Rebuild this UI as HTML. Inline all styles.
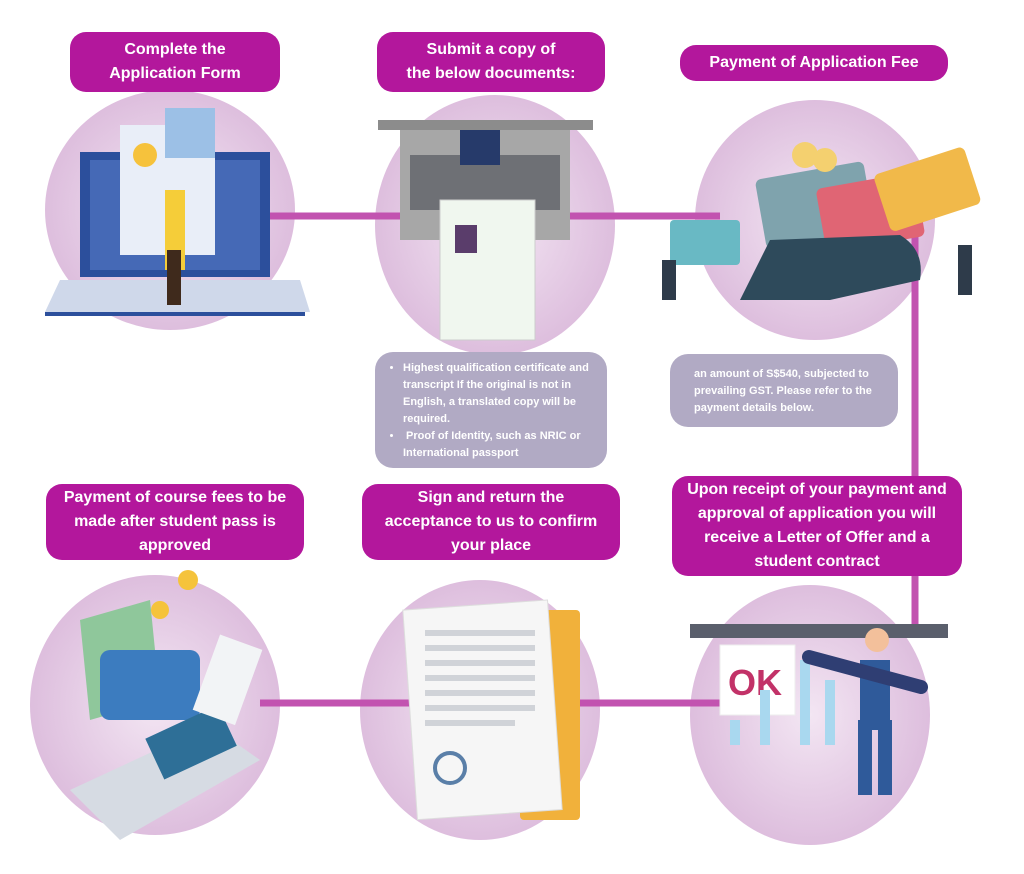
<!DOCTYPE html>
<html><head><style>
body{margin:0;width:1024px;height:874px;background:#fff;position:relative;overflow:hidden;font-family:"Liberation Sans",Arial,sans-serif}
.t{position:absolute;background:#b3179c;color:#fff;font-weight:bold;font-size:16px;line-height:24px;text-align:center;border-radius:16px;display:flex;align-items:center;justify-content:center}
.g{position:absolute;background:#b1aac4;color:#fff;font-weight:bold;font-size:11px;line-height:17px;border-radius:18px}
.g ul{margin:0;padding-left:28px}
svg{position:absolute;left:0;top:0}
</style></head><body>
<svg width="1024" height="874">
<defs><radialGradient id="b" cx="50%" cy="50%" r="60%"><stop offset="0" stop-color="#f3e6f3"/><stop offset="1" stop-color="#d9b6d9"/></radialGradient></defs>
<ellipse cx="170" cy="210" rx="125" ry="120" fill="url(#b)"/>
<ellipse cx="495" cy="225" rx="120" ry="130" fill="url(#b)"/>
<ellipse cx="815" cy="220" rx="120" ry="120" fill="url(#b)"/>
<ellipse cx="155" cy="705" rx="125" ry="130" fill="url(#b)"/>
<ellipse cx="480" cy="710" rx="120" ry="130" fill="url(#b)"/>
<ellipse cx="810" cy="715" rx="120" ry="130" fill="url(#b)"/>
<g stroke="#c253b0" stroke-width="7" fill="none">
<line x1="260" y1="216" x2="720" y2="216"/>
<line x1="915" y1="216" x2="915" y2="630"/>
<line x1="260" y1="703" x2="720" y2="703"/>
</g>
<!-- laptop 1 -->
<rect x="80" y="152" width="190" height="125" fill="#2c4f9c"/>
<rect x="90" y="160" width="170" height="110" fill="#4569b6"/>
<polygon points="60,280 300,280 310,312 45,312" fill="#cfd8ea"/>
<rect x="45" y="312" width="260" height="4" fill="#2c4f9c"/>
<rect x="120" y="125" width="95" height="130" fill="#e9eef8"/>
<rect x="165" y="108" width="50" height="50" fill="#9cc0e6"/>
<circle cx="145" cy="155" r="12" fill="#f6c23c"/>
<rect x="165" y="190" width="20" height="80" fill="#f5cd39"/>
<rect x="167" y="250" width="14" height="55" fill="#3f2a1c"/>
<!-- laptop 2 -->
<rect x="378" y="120" width="215" height="10" fill="#8c8c8c"/>
<rect x="400" y="130" width="170" height="110" fill="#a7a7a7"/>
<rect x="410" y="155" width="150" height="55" fill="#6e7075"/>
<rect x="460" y="130" width="40" height="35" fill="#263a6a"/>
<rect x="440" y="200" width="95" height="140" fill="#f0f7ef" stroke="#ccc"/>
<rect x="455" y="225" width="22" height="28" fill="#5a3d6b"/>
<!-- payment -->
<rect x="760" y="170" width="110" height="70" rx="6" fill="#7fa3ad" transform="rotate(-10 815 205)"/>
<rect x="820" y="180" width="100" height="65" rx="6" fill="#e06574" transform="rotate(-10 870 210)"/>
<rect x="880" y="160" width="95" height="60" rx="6" fill="#f1b94a" transform="rotate(-18 925 190)"/>
<rect x="670" y="220" width="70" height="45" rx="4" fill="#69b9c4"/>
<path d="M740 300 L770 240 L900 235 Q925 250 920 280 L830 300 Z" fill="#2e4a5b"/>
<circle cx="805" cy="155" r="13" fill="#f4d06f"/><circle cx="825" cy="160" r="12" fill="#f4d06f"/>
<rect x="662" y="260" width="14" height="40" fill="#2e3b4a"/>
<rect x="958" y="245" width="14" height="50" fill="#2e3b4a"/>
<!-- bottom left -->
<polygon points="80,620 150,600 160,700 90,720" fill="#8fc79b"/>
<rect x="100" y="650" width="100" height="70" rx="10" fill="#3c7cbf"/>
<polygon points="70,790 210,725 260,760 120,840" fill="#d6dbe3"/>
<rect x="150" y="720" width="80" height="45" fill="#2e6f97" transform="rotate(-25 190 740)"/>
<rect x="205" y="640" width="45" height="80" fill="#f2f4f6" transform="rotate(20 228 680)"/>
<circle cx="188" cy="580" r="10" fill="#f5c33b"/><circle cx="160" cy="610" r="9" fill="#f5c33b"/>
<!-- doc -->
<rect x="520" y="610" width="60" height="210" rx="4" fill="#f1b13b"/>
<rect x="410" y="605" width="145" height="210" fill="#f6f6f6" stroke="#ddd" transform="rotate(-4 480 710)"/>
<g fill="#d0d3d8"><rect x="425" y="630" width="110" height="6"/><rect x="425" y="645" width="110" height="6"/><rect x="425" y="660" width="110" height="6"/><rect x="425" y="675" width="110" height="6"/><rect x="425" y="690" width="110" height="6"/><rect x="425" y="705" width="110" height="6"/><rect x="425" y="720" width="90" height="6"/></g>
<circle cx="450" cy="768" r="15" fill="none" stroke="#5a7fa8" stroke-width="4"/>
<!-- ok -->
<rect x="690" y="624" width="258" height="14" fill="#5a5f6c"/>
<rect x="720" y="645" width="75" height="70" fill="#fff" stroke="#eee"/>
<text x="728" y="695" font-family="Liberation Sans" font-size="36" font-weight="bold" fill="#c23268">OK</text>
<g fill="#a9d8ef"><rect x="730" y="720" width="10" height="25"/><rect x="760" y="690" width="10" height="55"/><rect x="800" y="660" width="10" height="85"/><rect x="825" y="680" width="10" height="65"/></g>
<rect x="860" y="660" width="30" height="70" fill="#2f5a9a"/>
<rect x="858" y="720" width="14" height="75" fill="#2f5a9a"/><rect x="878" y="720" width="14" height="75" fill="#2f5a9a"/>
<circle cx="877" cy="640" r="12" fill="#f3c09b"/>
<rect x="800" y="665" width="130" height="14" rx="7" fill="#2f3e73" transform="rotate(15 865 672)"/>
</svg>
<div class="t" style="left:70px;top:32px;width:210px;height:60px">Complete the<br>Application Form</div>
<div class="t" style="left:377px;top:32px;width:228px;height:60px">Submit a copy of<br>the below documents:</div>
<div class="t" style="left:680px;top:45px;width:268px;height:36px">Payment of Application Fee</div>
<div class="g" style="left:375px;top:352px;width:232px;height:116px;padding-top:8px;box-sizing:border-box"><ul><li>Highest qualification certificate and transcript If the original is not in English, a translated copy will be required.</li><li>&nbsp;Proof of Identity, such as NRIC or International passport</li></ul></div>
<div class="g" style="left:670px;top:354px;width:228px;height:73px;padding:12px 14px 0 24px;box-sizing:border-box">an amount of S$540, subjected to prevailing GST. Please refer to the payment details below.</div>
<div class="t" style="left:46px;top:484px;width:258px;height:76px">Payment of course fees to be<br>made after student pass is<br>approved</div>
<div class="t" style="left:362px;top:484px;width:258px;height:76px">Sign and return the<br>acceptance to us to confirm<br>your place</div>
<div class="t" style="left:672px;top:476px;width:290px;height:100px">Upon receipt of your payment and<br>approval of application you will<br>receive a Letter of Offer and a<br>student contract</div>
</body></html>
